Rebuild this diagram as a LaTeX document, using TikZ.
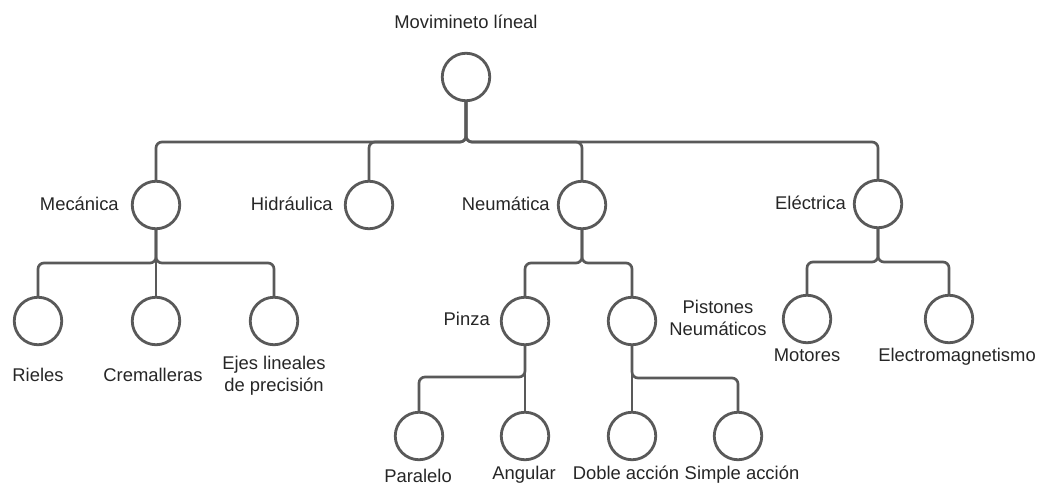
\documentclass[tikz,border=0pt]{standalone}
\usepackage{fontspec}
\setmainfont{Liberation Sans}
\begin{document}
\begin{tikzpicture}[x=0.75pt,y=-0.75pt,
  every node/.style={font=\fontsize{13.8pt}{16.5pt}\selectfont, text=black!85},
  item/.style={circle, draw=black!65, line width=2.1pt, minimum size=47.5pt*0.75, inner sep=0pt, fill=white},
  link/.style={draw=black!65, line width=2pt, rounded corners=4.5pt},
  lbl/.style={inner sep=0pt, anchor=base},
  lblleft/.style={inner sep=0pt, anchor=base east},
  lblblock/.style={inner sep=0pt, align=center, anchor=base}]
\useasboundingbox (0,0) rectangle (1037,485);

% circles of the tree
\node[item] (root) at (466,77) {};
\node[item] (mec) at (156,205) {};
\node[item] (hid) at (369,205) {};
\node[item] (neu) at (582,205) {};
\node[item] (ele) at (878,204) {};
\node[item] (rie) at (38,321) {};
\node[item] (cre) at (156,321) {};
\node[item] (eje) at (274,321) {};
\node[item] (pin) at (525,321) {};
\node[item] (pis) at (632,321) {};
\node[item] (mot) at (807,319) {};
\node[item] (elm) at (949,319) {};
\node[item] (par) at (419,436) {};
\node[item] (ang) at (525,436) {};
\node[item] (dob) at (632,436) {};
\node[item] (sim) at (738,436) {};

% levels of the horizontal bars
\coordinate (rootbar) at (0,142);
\coordinate (mecbar) at (0,263);
\coordinate (neubar) at (0,263);
\coordinate (elebar) at (0,262);
\coordinate (pinbar) at (0,377);
\coordinate (pisbar) at (0,378);

% connectors
\draw[link] (root.south) |- (rootbar -| mec) -- (mec.north);
\draw[link] (root.south) |- (rootbar -| hid) -- (hid.north);
\draw[link] (root.south) |- (rootbar -| neu) -- (neu.north);
\draw[link] (root.south) |- (rootbar -| ele) -- (ele.north);

\draw[link] (mec.south) |- (mecbar -| rie) -- (rie.north);
\draw[link] (mec.south) -- (cre.north);
\draw[link] (mec.south) |- (mecbar -| eje) -- (eje.north);

\draw[link] (neu.south) |- (neubar -| pin) -- (pin.north);
\draw[link] (neu.south) |- (neubar -| pis) -- (pis.north);

\draw[link] (ele.south) |- (elebar -| mot) -- (mot.north);
\draw[link] (ele.south) |- (elebar -| elm) -- (elm.north);

\draw[link] (pin.south) |- (pinbar -| par) -- (par.north);
\draw[link] (pin.south) -- (ang.north);

\draw[link] (pis.south) -- (dob.north);
\draw[link] (pis.south) |- (pisbar -| sim) -- (sim.north);

% labels
\node[lbl] (troot) at (466,29) {Movimineto líneal};
\node[lblleft] (tmec) at (119,210) {Mecánica};
\node[lblleft] (thid) at (333,210) {Hidráulica};
\node[lblleft] (tneu) at (550,210) {Neumática};
\node[lblleft] (tele) at (846,209) {Eléctrica};
\node[lbl] (trie) at (38,381) {Rieles};
\node[lbl] (tcre) at (153,381) {Cremalleras};
\node[lblblock, anchor=north] (teje) at (274,356) {Ejes lineales\\de precisión};
\node[lblleft] (tpin) at (490,325) {Pinza};
\node[lblblock, anchor=north] (tpis) at (718,300) {Pistones\\Neumáticos};
\node[lbl] (tmot) at (807,361) {Motores};
\node[lbl] (telm) at (957,361) {Electromagnetismo};
\node[lbl] (tpar) at (418,482) {Paralelo};
\node[lbl] (tang) at (524,479) {Angular};
\node[lbl] (tdob) at (626,479) {Doble acción};
\node[lbl] (tsim) at (742,479) {Simple acción};
\end{tikzpicture}
\end{document}
